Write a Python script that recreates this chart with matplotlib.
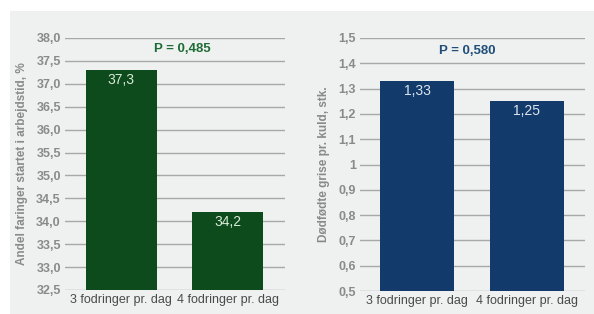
import numpy as np
import matplotlib.pyplot as plt
from matplotlib.patches import Rectangle

plt.rcParams['font.family'] = ['Liberation Sans', 'DejaVu Sans']

categories = ['3 fodringer pr. dag', '4 fodringer pr. dag']
andel = [37.3, 34.2]
doedfoedte = [1.33, 1.25]
andel_labels = ['37,3', '34,2']
doed_labels = ['1,33', '1,25']
andel_ticks = [32.5, 33.0, 33.5, 34.0, 34.5, 35.0, 35.5, 36.0, 36.5, 37.0, 37.5, 38.0]
andel_ticklabels = ['32,5', '33,0', '33,5', '34,0', '34,5', '35,0', '35,5', '36,0',
                    '36,5', '37,0', '37,5', '38,0']
doed_ticks = [0.5, 0.6, 0.7, 0.8, 0.9, 1.0, 1.1, 1.2, 1.3, 1.4, 1.5]
doed_ticklabels = ['0,5', '0,6', '0,7', '0,8', '0,9', '1', '1,1', '1,2', '1,3', '1,4', '1,5']

fig = plt.figure(figsize=(5.94, 3.14), dpi=100)
fig.patch.set_facecolor('white')
# light panel behind both charts
fig.patches.append(Rectangle((10 / 594, 0), 1, 1 - 11 / 314, transform=fig.transFigure,
                             facecolor='#eef1f0', edgecolor='none', zorder=-10))

ax1 = fig.add_axes([65 / 594, 24 / 314, 220 / 594, 252 / 314])
ax2 = fig.add_axes([360 / 594, 23 / 314, 225 / 594, 253 / 314])


def style(ax, ticks, ticklabels, ylabel):
    ax.set_facecolor('none')
    for s in ax.spines.values():
        s.set_visible(False)
    ax.set_yticks(ticks)
    ax.set_yticklabels(ticklabels, fontsize=9, color='#8a8a8a', fontweight='bold')
    ax.set_ylim(ticks[0], ticks[-1])
    ax.yaxis.grid(True, color='#a8a8a8', linewidth=1.0)
    ax.set_axisbelow(True)
    ax.tick_params(axis='both', length=0, pad=3)
    ax.set_xticks(range(len(categories)))
    ax.set_xticklabels(categories, fontsize=9, color='#4a4a4a')
    ax.set_ylabel(ylabel, fontsize=8.5, color='#8a8a8a', fontweight='bold', labelpad=6)


style(ax1, andel_ticks, andel_ticklabels, 'Andel faringer startet i arbejdstid, %')
x = np.arange(len(categories))
ax1.bar(x, andel, width=0.67, color='#0d4a1c')
ax1.set_ylim(32.5, 38.0)
ax1.set_xlim(-0.53, 1.54)
for xi, v, lab in zip(x, andel, andel_labels):
    ax1.text(xi, v - 0.22, lab, ha='center', va='center', color='#d8ead8', fontsize=10)
ax1.text(0.57, 37.75, 'P = 0,485', ha='center', va='center', color='#1e6b35',
         fontsize=9.5, fontweight='bold')

style(ax2, doed_ticks, doed_ticklabels, 'Dødfødte grise pr. kuld, stk.')
ax2.bar(x, doedfoedte, width=0.67, color='#123a6b')
ax2.set_ylim(0.5, 1.5)
ax2.set_xlim(-0.52, 1.53)
for xi, v, lab in zip(x, doedfoedte, doed_labels):
    ax2.text(xi, v - 0.04, lab, ha='center', va='center', color='#dce6f0', fontsize=10)
ax2.text(0.46, 1.45, 'P = 0,580', ha='center', va='center', color='#1f4e79',
         fontsize=9.5, fontweight='bold')

plt.savefig('out.png', dpi=100, facecolor=fig.get_facecolor())
